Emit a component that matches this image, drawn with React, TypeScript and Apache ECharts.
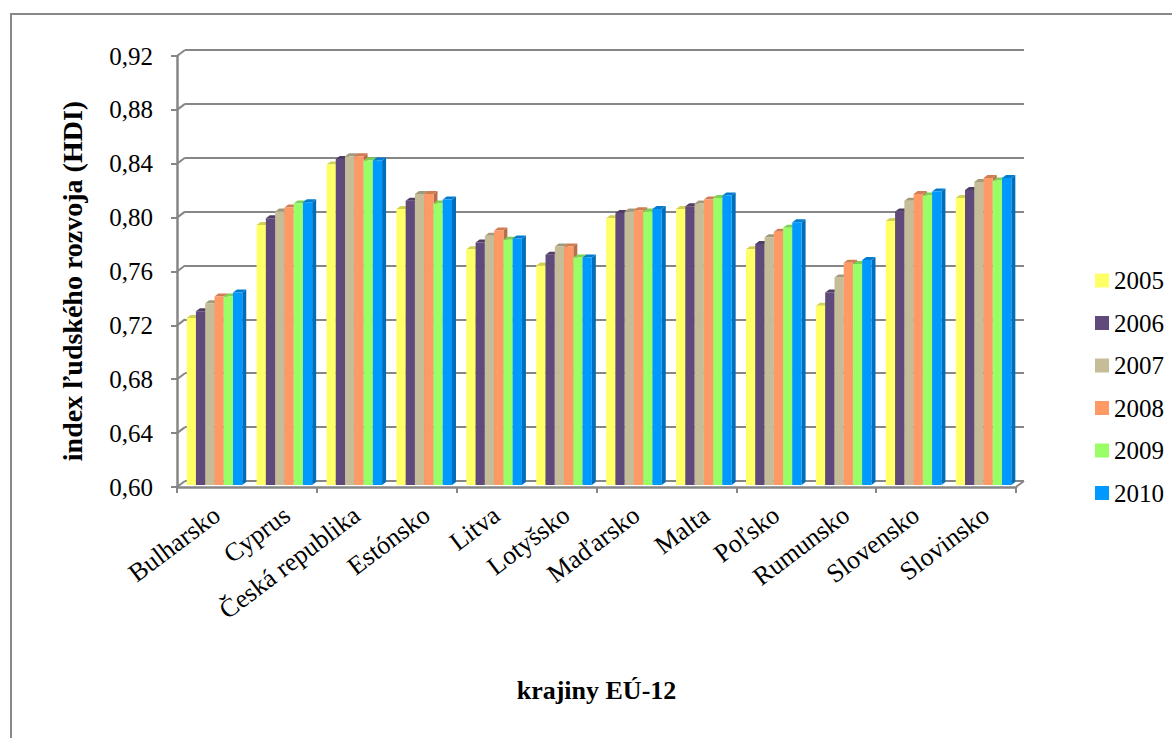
import React, { useEffect, useRef } from "react";
import * as echarts from "echarts";

const categories = [
  "Bulharsko", "Cyprus", "Česká republika", "Estónsko", "Litva", "Lotyšsko",
  "Maďarsko", "Malta", "Poľsko", "Rumunsko", "Slovensko", "Slovinsko",
];
const years = ["2005", "2006", "2007", "2008", "2009", "2010"];
const v2005 = [0.724, 0.793, 0.838, 0.805, 0.775, 0.763, 0.798, 0.805, 0.775, 0.733, 0.796, 0.813];
const v2006 = [0.729, 0.798, 0.842, 0.811, 0.780, 0.771, 0.802, 0.807, 0.779, 0.743, 0.803, 0.819];
const v2007 = [0.735, 0.803, 0.844, 0.816, 0.785, 0.777, 0.803, 0.809, 0.784, 0.754, 0.811, 0.825];
const v2008 = [0.740, 0.806, 0.844, 0.816, 0.789, 0.777, 0.804, 0.812, 0.788, 0.765, 0.816, 0.828];
const v2009 = [0.740, 0.809, 0.841, 0.809, 0.782, 0.769, 0.803, 0.813, 0.791, 0.764, 0.815, 0.826];
const v2010 = [0.743, 0.810, 0.841, 0.812, 0.783, 0.769, 0.805, 0.815, 0.795, 0.767, 0.818, 0.828];
const seriesValues = [v2005, v2006, v2007, v2008, v2009, v2010];
const colors = ["#FFFF66", "#604A7B", "#C4BD97", "#FF9966", "#99FF66", "#0099FF"];
const yTicks = [0.60, 0.64, 0.68, 0.72, 0.76, 0.80, 0.84, 0.88, 0.92];

const FONT = "Liberation Serif";
const AXIS_GRAY = "#868686";

function shade(hex: string, f: number) {
  const n = parseInt(hex.slice(1), 16);
  const r = Math.round(((n >> 16) & 255) * f);
  const g = Math.round(((n >> 8) & 255) * f);
  const b = Math.round((n & 255) * f);
  return `rgb(${r},${g},${b})`;
}

export default function App() {
  const ref = useRef<HTMLDivElement>(null);
  useEffect(() => {
    if (!ref.current) return;
    const chart = echarts.init(ref.current, null, { renderer: "svg" });
    const DX = 2.5, DY = -2, DDX = 4, DDY = -3;

    const barSeries = seriesValues.map((vals, s) => ({
      type: "custom",
      name: years[s],
      xAxisIndex: 0,
      yAxisIndex: 0,
      itemStyle: { color: colors[s] },
      data: vals.map((v, i) => [i, v]),
      encode: { x: 0, y: 1 },
      z: 3,
      renderItem: (params: any, api: any) => {
        const c = api.value(0);
        const v = api.value(1);
        const top = api.coord([c, v]);
        const base = api.coord([c, 0.6]);
        const band = api.size([1, 0])[0];
        const w = band * 0.1325;
        const x = top[0] - 3 * w + s * w + DX;
        const yT = top[1] + DY;
        const yB = base[1] + DY;
        const col = colors[s];
        return {
          type: "group",
          children: [
            {
              type: "polygon",
              shape: { points: [[x + w, yT], [x + w + DDX, yT + DDY], [x + w + DDX, yB + DDY], [x + w, yB]] },
              style: { fill: shade(col, 0.72) },
            },
            {
              type: "polygon",
              shape: { points: [[x, yT], [x + w, yT], [x + w + DDX, yT + DDY], [x + DDX, yT + DDY]] },
              style: { fill: shade(col, 0.82) },
            },
            {
              type: "rect",
              shape: { x, y: yT, width: w, height: yB - yT },
              style: { fill: col },
            },
          ],
        };
      },
    }));

    const connectorSeries = {
      type: "custom",
      name: "walls",
      xAxisIndex: 0,
      yAxisIndex: 0,
      silent: true,
      z: 1,
      data: yTicks.map((t) => [0, t]),
      encode: { x: 0, y: 1 },
      renderItem: (params: any, api: any) => {
        const cs = params.coordSys;
        const y = api.coord([0, api.value(1)])[1];
        const children: any[] = [
          {
            type: "line",
            shape: { x1: cs.x, y1: y, x2: cs.x + 8, y2: y - 6 },
            style: { stroke: AXIS_GRAY, lineWidth: 2 },
          },
        ];
        if (api.value(1) === yTicks[0]) {
          children.push({
            type: "line",
            shape: { x1: cs.x + cs.width, y1: y, x2: cs.x + cs.width + 8, y2: y - 6 },
            style: { stroke: AXIS_GRAY, lineWidth: 2 },
          });
        }
        return { type: "group", children };
      },
    };

    chart.setOption({
      animation: false,
      backgroundColor: "#ffffff",
      textStyle: { fontFamily: FONT },
      grid: [
        { left: 177, top: 56, width: 839, height: 431, containLabel: false },
        { left: 185, top: 50, width: 839, height: 431, containLabel: false },
        { left: 182, top: 56, width: 839, height: 431, containLabel: false },
      ],
      xAxis: [
        {
          type: "category",
          gridIndex: 0,
          data: categories,
          axisLine: { show: true, lineStyle: { color: AXIS_GRAY, width: 2.5 } },
          axisTick: { show: true, length: 6, lineStyle: { color: AXIS_GRAY, width: 2 } },
          axisLabel: { show: false },
          splitLine: { show: false },
          name: "krajiny EÚ-12",
          nameLocation: "middle",
          nameGap: 190,
          nameTextStyle: { fontSize: 26, fontWeight: "bold", color: "#000", fontFamily: FONT },
        },
        {
          type: "category",
          gridIndex: 1,
          data: categories,
          show: false,
        },
        {
          type: "category",
          gridIndex: 2,
          data: categories,
          axisLine: { show: false },
          axisTick: { show: false },
          splitLine: { show: false },
          axisLabel: {
            rotate: 37,
            interval: 0,
            margin: 25,
            fontSize: 26,
            color: "#000",
            fontFamily: FONT,
          },
        },
      ],
      yAxis: [
        {
          type: "value",
          gridIndex: 0,
          min: 0.6,
          max: 0.92,
          interval: 0.04,
          axisLine: { show: true, lineStyle: { color: AXIS_GRAY, width: 2.5 } },
          axisTick: { show: true, length: 6, lineStyle: { color: AXIS_GRAY, width: 2 } },
          axisLabel: {
            margin: 24,
            fontSize: 25,
            color: "#000",
            fontFamily: FONT,
            formatter: (v: number) => v.toFixed(2).replace(".", ","),
          },
          splitLine: { show: false },
        },
        {
          type: "value",
          gridIndex: 1,
          min: 0.6,
          max: 0.92,
          interval: 0.04,
          axisLine: { show: false },
          axisTick: { show: false },
          axisLabel: { show: false },
          splitLine: { show: true, lineStyle: { color: AXIS_GRAY, width: 2 } },
        },
        {
          type: "value",
          gridIndex: 2,
          min: 0.6,
          max: 0.92,
          interval: 0.04,
          show: false,
        },
      ],
      legend: {
        orient: "vertical",
        left: 1090,
        top: 263,
        data: years,
        icon: "rect",
        itemWidth: 14,
        itemHeight: 14,
        itemGap: 17.5,
        formatter: "{y|{name}}",
        textStyle: {
          fontSize: 25,
          lineHeight: 24,
          color: "#000",
          fontFamily: FONT,
          rich: { y: { fontSize: 25, lineHeight: 24, color: "#000", fontFamily: FONT } },
        },
      },
      graphic: [
        {
          type: "text",
          x: 72,
          y: 281,
          rotation: Math.PI / 2,
          style: {
            text: "index ľudského rozvoja (HDI)",
            fontSize: 28,
            fontWeight: "bold",
            fontFamily: FONT,
            fill: "#000",
            align: "center",
            verticalAlign: "middle",
          },
        },
      ],
      series: [connectorSeries, ...barSeries],
    });
    return () => chart.dispose();
  }, []);

  return (
    <div style={{ position: "fixed", left: 0, top: 0, width: 1172, height: 738, background: "#fff" }}>
      <div ref={ref} style={{ position: "absolute", left: 0, top: 0, width: 1172, height: 738 }} />
      <div
        style={{
          position: "absolute",
          left: 10,
          top: 13,
          width: 1180,
          height: 740,
          border: "2px solid #888",
          pointerEvents: "none",
        }}
      />
    </div>
  );
}
